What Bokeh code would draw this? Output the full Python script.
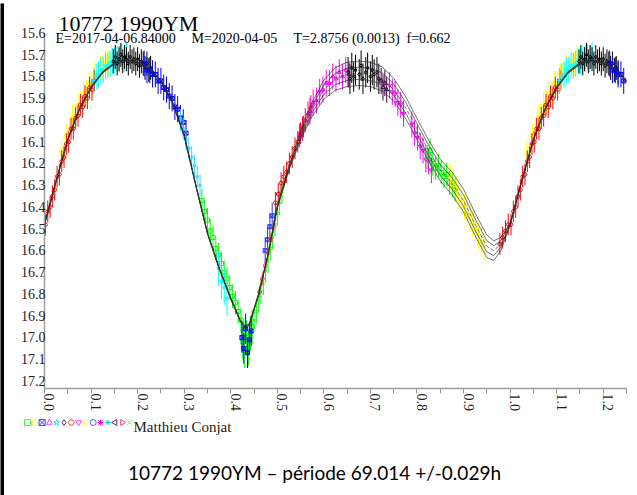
import math
from bokeh.plotting import figure
from bokeh.models import (Range1d, FixedTicker, LinearAxis, PrintfTickFormatter,
                          CustomJSTickFormatter)
from bokeh.layouts import row, column
from bokeh.core.properties import value
from bokeh.embed import file_html
from bokeh.resources import INLINE

# ---------------- data ----------------
title_text = "10772 1990YM"
sub_E = "E=2017-04-06.84000"
sub_M = "M=2020-04-05"
sub_T = "T=2.8756 (0.0013)"
sub_f = "f=0.662"
author = "Matthieu Conjat"
caption = "10772 1990YM \u2013 p\u00e9riode 69.014 +/-0.029h"

y_tick_values = [15.6, 15.7, 15.8, 15.9, 16.0, 16.1, 16.2, 16.3, 16.4, 16.5,
                 16.6, 16.7, 16.8, 16.9, 17.0, 17.1, 17.2]
y_tick_labels = ["15.6", "15.7", "15.8", "15.9", "16.0", "16.1", "16.2", "16.3", "16.4",
                 "16.5", "16.6", "16.7", "16.8", "16.9", "17.0", "17.1", "17.2"]
x_tick_values = [0.0, 0.1, 0.2, 0.3, 0.4, 0.5, 0.6, 0.7, 0.8, 0.9, 1.0, 1.1, 1.2]
x_tick_labels = ["0.0", "0.1", "0.2", "0.3", "0.4", "0.5", "0.6", "0.7", "0.8", "0.9",
                 "1.0", "1.1", "1.2"]
x_minor_values = [0.05, 0.15, 0.25, 0.35, 0.45, 0.55, 0.65, 0.75, 0.85, 0.95, 1.05, 1.15, 1.25]

# fitted light curve (centre) and half-spread of the bundle of fits
fit_phase = [0.0, 0.025, 0.05, 0.075, 0.10, 0.125, 0.15, 0.175, 0.20, 0.225, 0.25, 0.275,
             0.30, 0.325, 0.35, 0.375, 0.40, 0.42, 0.43, 0.44, 0.46, 0.48, 0.50, 0.525,
             0.55, 0.575, 0.60, 0.625, 0.65, 0.675, 0.70, 0.725, 0.75, 0.775, 0.80, 0.825,
             0.85, 0.875, 0.90, 0.925, 0.95, 0.965, 0.98, 1.0]
fit_mag = [16.46, 16.26, 16.07, 15.93, 15.83, 15.76, 15.72, 15.705, 15.715, 15.745, 15.80,
           15.90, 16.05, 16.28, 16.50, 16.66, 16.80, 16.90, 16.93, 16.92, 16.78, 16.60,
           16.38, 16.20, 16.05, 15.93, 15.84, 15.79, 15.77, 15.765, 15.77, 15.79, 15.84,
           15.92, 16.02, 16.12, 16.21, 16.27, 16.35, 16.46, 16.56, 16.58, 16.55, 16.46]
fit_spread = [0.004, 0.004, 0.004, 0.004, 0.004, 0.004, 0.004, 0.004, 0.004, 0.004, 0.004,
              0.004, 0.004, 0.004, 0.004, 0.004, 0.004, 0.004, 0.004, 0.004, 0.004, 0.004,
              0.005, 0.010, 0.020, 0.032, 0.044, 0.052, 0.056, 0.056, 0.056, 0.055, 0.052,
              0.050, 0.048, 0.048, 0.050, 0.052, 0.052, 0.052, 0.052, 0.045, 0.030, 0.006]

red_a_phase = [0.002, 0.007, 0.012, 0.017, 0.022, 0.027, 0.032, 0.037, 0.042, 0.047, 0.052,
               0.057, 0.062, 0.067, 0.072, 0.077, 0.082, 0.087, 0.092, 0.097, 0.102, 0.107]
red_a_mag = [16.46, 16.40, 16.38, 16.33, 16.30, 16.24, 16.23, 16.17, 16.15, 16.09, 16.08,
             16.02, 16.02, 15.97, 15.96, 15.91, 15.92, 15.87, 15.88, 15.83, 15.84, 15.80]
red_a_err = 0.05

yellow_a_phase = [0.036, 0.042, 0.048, 0.054, 0.060, 0.066, 0.072, 0.078, 0.084, 0.090,
                  0.096, 0.102, 0.108, 0.114, 0.120, 0.126, 0.132, 0.138, 0.144]
yellow_a_mag = [16.13, 16.11, 16.05, 16.03, 15.97, 15.96, 15.91, 15.90, 15.86, 15.85,
                15.81, 15.81, 15.77, 15.77, 15.74, 15.74, 15.71, 15.72, 15.69]
yellow_a_err = 0.055

cyan_a_phase = [0.106, 0.111, 0.116, 0.121, 0.126, 0.131, 0.136, 0.141, 0.146, 0.151,
                0.156, 0.161, 0.166, 0.171, 0.176]
cyan_a_mag = [15.80, 15.78, 15.77, 15.75, 15.75, 15.73, 15.73, 15.72, 15.71, 15.71,
              15.70, 15.70, 15.69, 15.70, 15.68]
cyan_a_err = 0.06

black_a_phase = [0.148, 0.152, 0.156, 0.160, 0.164, 0.168, 0.172, 0.176, 0.180, 0.184, 0.188,
                 0.192, 0.196, 0.200, 0.204, 0.208, 0.212, 0.216, 0.220, 0.224, 0.228, 0.232]
black_a_mag = [15.71, 15.69, 15.72, 15.70, 15.68, 15.71, 15.69, 15.70, 15.72, 15.69, 15.71,
               15.70, 15.72, 15.70, 15.73, 15.71, 15.72, 15.74, 15.72, 15.75, 15.74, 15.76]
black_a_err = 0.055

blue_a_phase = [0.214, 0.220, 0.226, 0.232, 0.238, 0.244, 0.250, 0.256, 0.262, 0.268, 0.274,
                0.280, 0.286, 0.292, 0.298, 0.304]
blue_a_mag = [15.72, 15.75, 15.75, 15.77, 15.77, 15.80, 15.80, 15.83, 15.84, 15.87, 15.88,
              15.92, 15.93, 15.97, 15.99, 16.04]
blue_a_err = 0.06

cyan_b_phase = [0.292, 0.298, 0.304, 0.310, 0.316, 0.322, 0.328, 0.334]
cyan_b_mag = [15.98, 16.02, 16.07, 16.11, 16.15, 16.19, 16.24, 16.28]
cyan_b_err = 0.05

green_l_phase = [0.338, 0.344, 0.350, 0.356, 0.362, 0.368, 0.374, 0.380, 0.386, 0.392,
                 0.398, 0.404, 0.410, 0.416, 0.422, 0.428]
green_l_mag = [16.35, 16.40, 16.44, 16.49, 16.52, 16.57, 16.60, 16.64, 16.68, 16.71,
               16.75, 16.79, 16.82, 16.86, 16.90, 16.95]
green_l_err = 0.055

cyan_c_phase = [0.374, 0.380, 0.386, 0.392]
cyan_c_mag = [16.66, 16.72, 16.75, 16.80]
cyan_c_err = 0.08

green_m_phase = [0.426, 0.430, 0.434, 0.438, 0.442, 0.446]
green_m_mag = [17.00, 17.04, 16.98, 17.03, 16.96, 16.93]
green_m_err = 0.08

blue_m_phase = [0.424, 0.428, 0.432, 0.436, 0.440, 0.444]
blue_m_mag = [16.98, 17.03, 16.94, 17.05, 16.99, 16.95]
blue_m_err = 0.07

green_r_phase = [0.450, 0.455, 0.460, 0.465, 0.470, 0.475, 0.480, 0.485, 0.490, 0.495,
                 0.500, 0.505, 0.510]
green_r_mag = [16.90, 16.86, 16.81, 16.77, 16.73, 16.67, 16.63, 16.57, 16.52, 16.46,
               16.41, 16.36, 16.31]
green_r_err = 0.055

blue_r_phase = [0.474, 0.479, 0.484, 0.489]
blue_r_mag = [16.58, 16.53, 16.47, 16.42]
blue_r_err = 0.06

salmon_phase = [0.462, 0.468, 0.474, 0.480, 0.486, 0.492]
salmon_mag = [16.77, 16.71, 16.65, 16.59, 16.53, 16.47]
salmon_err = 0.03

red_b_phase = [0.496, 0.502, 0.508, 0.514, 0.520, 0.526, 0.532, 0.538, 0.544, 0.550, 0.556]
red_b_mag = [16.36, 16.32, 16.27, 16.24, 16.22, 16.18, 16.15, 16.11, 16.08, 16.04, 16.01]
red_b_err = 0.05

crimson_phase = [0.548, 0.554, 0.560, 0.566, 0.572]
crimson_mag = [16.05, 16.02, 15.98, 15.95, 15.92]
crimson_err = 0.055

magenta_a_phase = [0.570, 0.577, 0.584, 0.591, 0.598, 0.605, 0.612, 0.619, 0.626, 0.633,
                   0.640, 0.647, 0.654]
magenta_a_mag = [15.94, 15.90, 15.89, 15.85, 15.84, 15.81, 15.81, 15.78, 15.79, 15.76,
                 15.78, 15.75, 15.77]
magenta_a_err = 0.06

black_b_phase = [0.652, 0.656, 0.660, 0.664, 0.668, 0.676, 0.680, 0.684, 0.690, 0.694,
                 0.700, 0.704, 0.708, 0.714, 0.718]
black_b_mag = [15.76, 15.79, 15.74, 15.78, 15.75, 15.77, 15.73, 15.79, 15.76, 15.74,
               15.78, 15.75, 15.77, 15.76, 15.79]
black_b_err = 0.07

purple_phase = [0.723, 0.727, 0.731, 0.735]
purple_mag = [15.80, 15.83, 15.81, 15.84]
purple_err = 0.06

magenta_b_phase = [0.741, 0.747, 0.753, 0.759, 0.765, 0.771, 0.789, 0.795, 0.801, 0.807,
                   0.813, 0.819, 0.825, 0.831]
magenta_b_mag = [15.82, 15.85, 15.86, 15.90, 15.91, 15.95, 16.00, 16.04, 16.06, 16.10,
                 16.12, 16.16, 16.17, 16.21]
magenta_b_err = 0.06

green_b_phase = [0.822, 0.828, 0.834, 0.840, 0.846, 0.852, 0.858, 0.864, 0.870, 0.876, 0.882]
green_b_mag = [16.15, 16.12, 16.18, 16.20, 16.19, 16.22, 16.24, 16.23, 16.27, 16.28, 16.30]
green_b_err = 0.055

yellow_b_phase = [0.872, 0.878, 0.884, 0.890, 0.896, 0.902, 0.908, 0.914, 0.920, 0.926,
                  0.932, 0.938, 0.944]
yellow_b_mag = [16.24, 16.27, 16.29, 16.33, 16.35, 16.38, 16.41, 16.43, 16.46, 16.48,
                16.51, 16.54, 16.56]
yellow_b_err = 0.06

red_c_phase = [0.978, 0.984, 0.990, 0.996]
red_c_mag = [16.55, 16.52, 16.49, 16.46]
red_c_err = 0.05

legend_markers = ["square", "circle", "square_x", "triangle", "star", "diamond", "hex",
                  "inverted_triangle", "star", "circle", "asterisk", "asterisk", "triangle",
                  "triangle", "x"]
legend_angles = [0, 0, 0, 0, 0, 0, 0, 0, 0, 0, 0, 0, math.pi / 2, -math.pi / 2, 0]
legend_colors = ["#40ff40", "#ffff00", "#4040ff", "#ff40ff", "#00e0ff", "#404040", "#ff4040",
                 "#ff40ff", "#ffff40", "#4060ff", "#ff00ff", "#00e0e0", "#603060", "#ff4080",
                 "#40ff40"]

groups = [
    (yellow_a_phase, yellow_a_mag, yellow_a_err, "#ffff00", "circle"),
    (red_a_phase, red_a_mag, red_a_err, "#ff0000", "hex"),
    (cyan_a_phase, cyan_a_mag, cyan_a_err, "#00ffff", "star"),
    (black_a_phase, black_a_mag, black_a_err, "#000000", "diamond"),
    (blue_a_phase, blue_a_mag, blue_a_err, "#0000ff", "square_x"),
    (cyan_b_phase, cyan_b_mag, cyan_b_err, "#30d8ff", "asterisk"),
    (green_l_phase, green_l_mag, green_l_err, "#00ff00", "square"),
    (cyan_c_phase, cyan_c_mag, cyan_c_err, "#00ffff", "star"),
    (green_m_phase, green_m_mag, green_m_err, "#00ff00", "square"),
    (blue_m_phase, blue_m_mag, blue_m_err, "#0000ff", "square_x"),
    (green_r_phase, green_r_mag, green_r_err, "#00ff00", "x"),
    (blue_r_phase, blue_r_mag, blue_r_err, "#3030ff", "square_x"),
    (salmon_phase, salmon_mag, salmon_err, "#ff5050", "circle"),
    (red_b_phase, red_b_mag, red_b_err, "#ff0000", "hex"),
    (crimson_phase, crimson_mag, crimson_err, "#ff0060", "triangle"),
    (magenta_a_phase, magenta_a_mag, magenta_a_err, "#ff00ff", "triangle"),
    (black_b_phase, black_b_mag, black_b_err, "#000000", "diamond"),
    (purple_phase, purple_mag, purple_err, "#400040", "triangle"),
    (magenta_b_phase, magenta_b_mag, magenta_b_err, "#ff00ff", "inverted_triangle"),
    (green_b_phase, green_b_mag, green_b_err, "#00ff00", "square"),
    (yellow_b_phase, yellow_b_mag, yellow_b_err, "#ffff00", "star"),
    (red_c_phase, red_c_mag, red_c_err, "#ff0000", "hex"),
]

serif = "Liberation Serif"

# ---------------- main figure ----------------
p = figure(width=633, height=412, output_backend="svg", toolbar_location=None,
           x_range=Range1d(0, 1.25), y_range=Range1d(17.214, 15.444),
           min_border_left=40, min_border_right=11, min_border_top=0, min_border_bottom=27,
           margin=0, frame_align=False)
p.background_fill_color = "white"
p.border_fill_color = "white"
p.outline_line_color = None
p.grid.visible = False

empty = CustomJSTickFormatter(code="return ''")
for ax in (p.xaxis, p.yaxis):
    ax.axis_line_color = "#a0a0a0"
    ax.axis_line_width = 1.5
    ax.major_tick_line_color = "#909090"
    ax.minor_tick_line_color = None
    ax.major_tick_in = 0
    ax.formatter = empty
    ax.major_label_text_font_size = "1px"
    ax.major_label_standoff = 0
p.xaxis.ticker = FixedTicker(ticks=sorted(x_tick_values + x_minor_values))
p.xaxis.major_tick_out = 5
p.yaxis.ticker = FixedTicker(ticks=y_tick_values)
p.yaxis.major_tick_out = 3
p.yaxis.bounds = (15.582, 17.214)

# label-only axes, offset a few pixels like the original (labels sit on the tick baseline)
p.extra_x_ranges = {"lab": Range1d(-0.0107, 1.25 - 0.0107)}
p.extra_y_ranges = {"lab": Range1d(17.214 + 0.0207, 15.444 + 0.0207)}
xl = LinearAxis(x_range_name="lab", ticker=FixedTicker(ticks=x_tick_values),
                formatter=PrintfTickFormatter(format="%.1f"),
                major_label_overrides=dict(zip(x_tick_values, x_tick_labels)))
yl = LinearAxis(y_range_name="lab", ticker=FixedTicker(ticks=y_tick_values),
                formatter=PrintfTickFormatter(format="%.1f"),
                major_label_overrides=dict(zip(y_tick_values, y_tick_labels)))
for ax in (xl, yl):
    ax.axis_line_color = None
    ax.major_tick_line_color = None
    ax.minor_tick_line_color = None
    ax.major_tick_in = 0
    ax.major_tick_out = 0
    ax.major_label_text_font = serif
    ax.major_label_text_font_size = "14px"
    ax.major_label_text_color = "#222222"
xl.major_label_orientation = -math.pi / 2
xl.major_label_standoff = 0
yl.major_label_standoff = -4
p.add_layout(xl, "below")
p.add_layout(yl, "left")

# data: error bars + small markers, phases < 0.25 repeated after 1.0
for ph, mg, err, col, mk in groups:
    xs = list(ph) + [v + 1.0 for v in ph if v < 0.25]
    ys = list(mg) + [m for v, m in zip(ph, mg) if v < 0.25]
    p.segment(x0=xs, y0=[y - err for y in ys], x1=xs, y1=[y + err for y in ys],
              line_color=col, line_width=1)
    p.scatter(xs, ys, marker=mk, size=4, line_color=col, fill_color=None, line_width=1)

# fitted curves (bundle)
fx = list(fit_phase) + [v + 1.0 for v in fit_phase if 0 < v <= 0.275]
fm = list(fit_mag) + [m for v, m in zip(fit_phase, fit_mag) if 0 < v <= 0.275]
fs = list(fit_spread) + [s for v, s in zip(fit_phase, fit_spread) if 0 < v <= 0.275]
for k, dash in ((-1.0, "solid"), (-0.5, "solid"), (0.0, "4 2"), (0.5, "solid"), (1.0, "solid")):
    p.line(fx, [m + k * s for m, s in zip(fm, fs)], line_color="#303030",
           line_width=0.8, line_dash=dash, line_alpha=0.85)

# title and subtitle (inside the top of the frame)
p.text(x=[0.030], y=[15.536], text=[title_text], text_font=value(serif),
       text_font_size="22px", text_color="black", text_baseline="alphabetic")
p.text(x=[0.0236, 0.3157, 0.5348, 0.7775], y=[15.6046] * 4, text=[sub_E, sub_M, sub_T, sub_f],
       text_font=value(serif), text_font_size="14px", text_color="black",
       text_baseline="alphabetic")

# ---------------- bottom strip: legend + caption ----------------
b = figure(width=633, height=80, output_backend="svg", toolbar_location=None,
           x_range=Range1d(0, 633), y_range=Range1d(80, 0),
           min_border_left=0, min_border_right=0, min_border_top=0, min_border_bottom=0,
           x_axis_location=None, y_axis_location=None, margin=0, frame_align=False)
b.outline_line_color = None
b.grid.visible = False
b.background_fill_color = "white"
b.border_fill_color = "white"
b.scatter([23 + 7.3 * i for i in range(len(legend_markers))], [7] * len(legend_markers),
          marker=legend_markers, angle=legend_angles, size=6, line_color=legend_colors,
          fill_color=None, line_width=1)
b.text(x=[129], y=[11], text=[author], text_font=value(serif), text_font_size="15px",
       text_color="#222222", text_baseline="alphabetic")
b.text(x=[310], y=[57], text=[caption], text_font=value("Lato"), text_font_size="19px",
       text_color="black", text_align="center", text_baseline="alphabetic")


def bar(w, h):
    f = figure(width=w, height=h, output_backend="svg", toolbar_location=None,
               min_border=0, x_axis_location=None, y_axis_location=None, margin=0,
               frame_align=False)
    f.outline_line_color = None
    f.grid.visible = False
    f.background_fill_color = "black"
    f.border_fill_color = "black"
    return f


top_bar = bar(637, 3)
left_bar = bar(4, 492)
layout = column(top_bar,
                row(left_bar, column(p, b, margin=0, spacing=0), margin=0, spacing=0),
                margin=0, spacing=0)

open("out.html", "w").write(file_html(layout, INLINE))
